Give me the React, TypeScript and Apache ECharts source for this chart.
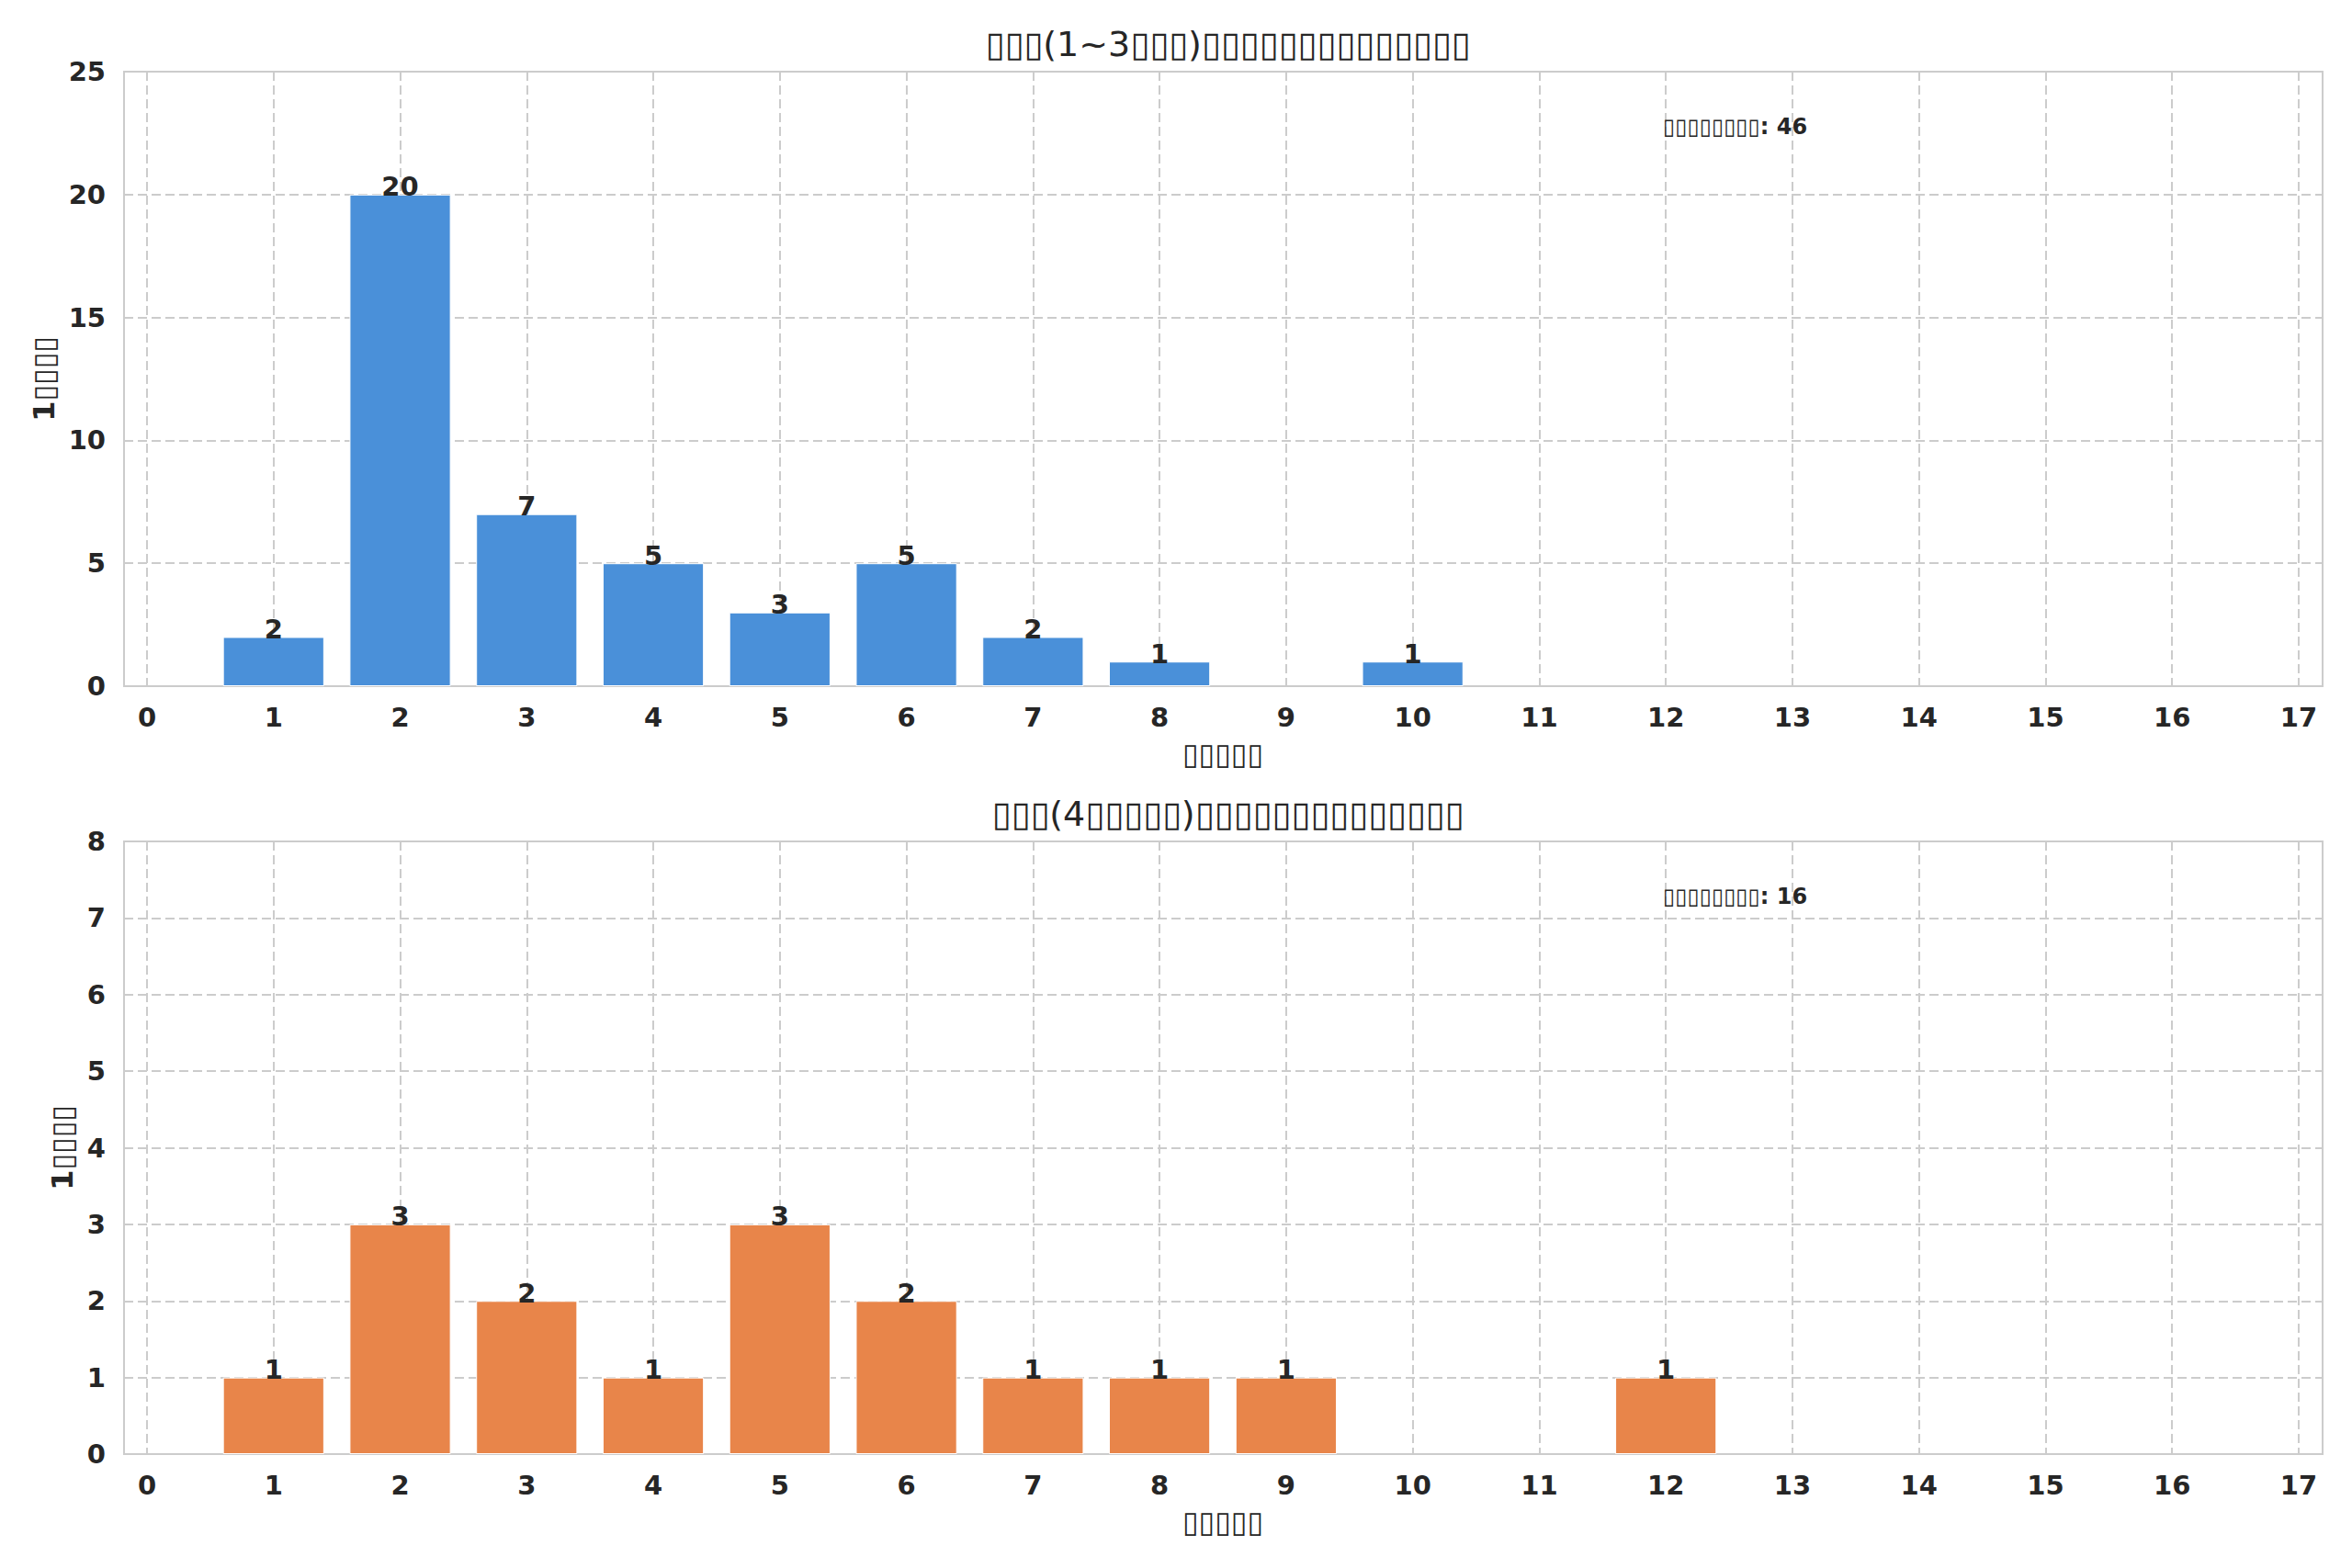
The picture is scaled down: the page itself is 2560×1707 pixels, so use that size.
import React, { useEffect, useRef } from "react";
import * as echarts from "echarts";

// ---- data ----
const lowerTitle = "▯▯▯(1~3▯▯▯)▯▯▯▯▯▯▯▯▯▯▯▯▯▯";
const upperTitle = "▯▯▯(4▯▯▯▯▯)▯▯▯▯▯▯▯▯▯▯▯▯▯▯";
const xAxisLabel = "▯▯▯▯▯";
const yAxisLabel = "1▯▯▯▯";
const totalLabel = "▯▯▯▯▯▯▯▯";

const lowerDays = [1, 2, 3, 4, 5, 6, 7, 8, 10];
const lowerCounts = [2, 20, 7, 5, 3, 5, 2, 1, 1];
const lowerTotal = 46;

const upperDays = [1, 2, 3, 4, 5, 6, 7, 8, 9, 12];
const upperCounts = [1, 3, 2, 1, 3, 2, 1, 1, 1, 1];
const upperTotal = 16;

const xMin = 0;
const xMax = 17;
const lowerYMax = 25;
const lowerYStep = 5;
const upperYMax = 8;
const upperYStep = 1;

const BLUE = "#4A90D9";
const ORANGE = "#E8854A";
const TEXT = "#262626";
const GRID = "#cccccc";
const FONT = "DejaVu Sans";

export default function App() {
  const ref = useRef<HTMLDivElement>(null);

  useEffect(() => {
    document.body.style.margin = "0";
    if (!ref.current) return;
    const chart = echarts.init(ref.current, undefined, { renderer: "svg" });

    const W = 2560;
    const outerLeft = 135;
    const outerRight = W - 2528;
    const innerLeft = 160;
    const innerRight = W - 2502;
    const topA = 78;
    const hA = 669;
    const topB = 916;
    const hB = 667;
    const unitPx = (W - innerLeft - innerRight) / (xMax - xMin);
    const barW = unitPx * 0.8;

    const splitDash = { show: true, lineStyle: { color: GRID, width: 2, type: [10, 5] as any } };

    const mkOuterY = (gridIndex: number, max: number, step: number, gap: number) => ({
      type: "value",
      gridIndex,
      min: 0,
      max,
      interval: step,
      name: yAxisLabel,
      nameLocation: "middle",
      nameGap: gap,
      nameTextStyle: { fontSize: 32, fontWeight: "bold", color: TEXT, fontFamily: FONT },
      axisLine: { show: false },
      axisTick: { show: false },
      axisLabel: { fontSize: 29, fontWeight: "bold", color: TEXT, fontFamily: FONT, margin: 20 },
      splitLine: splitDash,
    });
    const mkInnerY = (gridIndex: number, max: number) => ({
      type: "value",
      gridIndex,
      min: 0,
      max,
      show: false,
      splitLine: { show: false },
    });
    const mkOuterX = (gridIndex: number) => ({
      type: "value",
      gridIndex,
      min: 0,
      max: 1,
      show: false,
      splitLine: { show: false },
    });
    const mkInnerX = (gridIndex: number) => ({
      type: "value",
      gridIndex,
      min: xMin,
      max: xMax,
      interval: 1,
      name: xAxisLabel,
      nameLocation: "middle",
      nameGap: 58,
      nameTextStyle: { fontSize: 32, fontWeight: "bold", color: TEXT, fontFamily: FONT },
      axisLine: { show: false },
      axisTick: { show: false },
      axisLabel: { fontSize: 29, fontWeight: "bold", color: TEXT, fontFamily: FONT, margin: 19 },
      splitLine: splitDash,
    });

    const mkBar = (xi: number, yi: number, days: number[], counts: number[], color: string) => ({
      type: "bar",
      xAxisIndex: xi,
      yAxisIndex: yi,
      barWidth: barW,
      data: days.map((d, i) => [d, counts[i]]),
      itemStyle: { color, borderColor: "#ffffff", borderWidth: 1 },
      label: {
        show: true,
        position: "top",
        distance: -6,
        fontSize: 29,
        fontWeight: "bold",
        color: TEXT,
        fontFamily: FONT,
        formatter: (p: any) => String(p.value[1]),
      },
      z: 3,
    });

    const annX = outerLeft + 0.7 * (W - outerLeft - outerRight);

    chart.setOption({
      animation: false,
      backgroundColor: "#ffffff",
      textStyle: { fontFamily: FONT },
      title: [
        {
          text: lowerTitle,
          left: (outerLeft + (W - outerRight)) / 2,
          top: 24,
          textAlign: "center",
          textStyle: { fontSize: 38, fontWeight: "normal", color: TEXT, fontFamily: FONT },
        },
        {
          text: upperTitle,
          left: (outerLeft + (W - outerRight)) / 2,
          top: 862,
          textAlign: "center",
          textStyle: { fontSize: 38, fontWeight: "normal", color: TEXT, fontFamily: FONT },
        },
      ],
      grid: [
        { left: outerLeft, right: outerRight, top: topA, height: hA, show: true, borderColor: GRID, borderWidth: 2, backgroundColor: "transparent" },
        { left: innerLeft, right: innerRight, top: topA, height: hA },
        { left: outerLeft, right: outerRight, top: topB, height: hB, show: true, borderColor: GRID, borderWidth: 2, backgroundColor: "transparent" },
        { left: innerLeft, right: innerRight, top: topB, height: hB },
      ],
      xAxis: [mkOuterX(0), mkInnerX(1), mkOuterX(2), mkInnerX(3)],
      yAxis: [
        mkOuterY(0, lowerYMax, lowerYStep, 70),
        mkInnerY(1, lowerYMax),
        mkOuterY(2, upperYMax, upperYStep, 50),
        mkInnerY(3, upperYMax),
      ],
      series: [
        mkBar(1, 1, lowerDays, lowerCounts, BLUE),
        mkBar(3, 3, upperDays, upperCounts, ORANGE),
      ],
      graphic: [
        {
          type: "text",
          x: annX,
          y: 138,
          z: 10,
          style: {
            text: `${totalLabel}: ${lowerTotal}`,
            fontSize: 24,
            fontWeight: "bold",
            fontFamily: FONT,
            fill: TEXT,
            align: "left",
            verticalAlign: "middle",
          },
        },
        {
          type: "text",
          x: annX,
          y: 976,
          z: 10,
          style: {
            text: `${totalLabel}: ${upperTotal}`,
            fontSize: 24,
            fontWeight: "bold",
            fontFamily: FONT,
            fill: TEXT,
            align: "left",
            verticalAlign: "middle",
          },
        },
      ],
    });

    return () => chart.dispose();
  }, []);

  return <div ref={ref} style={{ width: 2560, height: 1707 }} />;
}
